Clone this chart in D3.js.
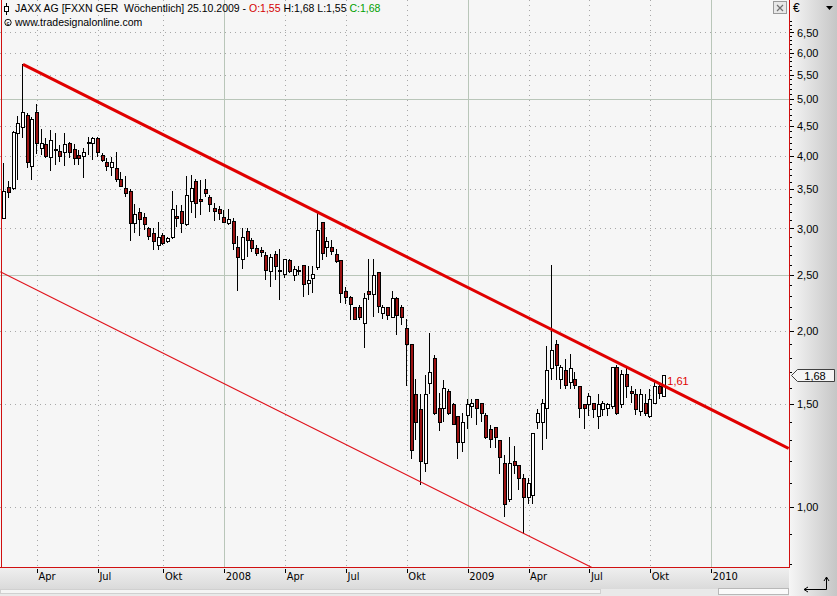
<!DOCTYPE html>
<html><head><meta charset="utf-8">
<script src="https://cdn.jsdelivr.net/npm/d3@7"></script>
<style>
html,body{margin:0;padding:0;background:#fff;}
svg{display:block;font-family:"Liberation Sans",Arial,sans-serif;}
text{white-space:pre;}
</style></head><body>
<svg id="chart" width="837" height="596"></svg>
<script>
// ---------------- data ----------------
const firstWeek = "2007-02-11";   // weekly bars, dated by week end (Sunday)
const opens = [3.13,3.53,3.52,4.37,4.48,4.70,3.84,4.75,4.12,4.19,3.98,4.09,4.07,4.06,4.20,4.11,4.01,3.99,4.20,4.20,
4.29,4.01,3.90,3.82,3.81,3.65,3.52,3.48,3.07,3.20,3.14,3.01,2.95,2.81,2.92,2.86,2.90,3.15,3.21,3.05,
3.34,3.62,3.37,3.51,3.40,3.25,3.24,3.14,3.07,3.09,2.79,2.66,2.97,2.87,2.78,2.76,2.70,2.54,2.71,2.55,
2.51,2.65,2.50,2.54,2.60,2.42,2.47,2.58,3.08,2.79,2.79,2.71,2.65,2.34,2.29,2.20,2.20,2.07,2.34,2.32,
2.53,2.15,2.20,2.12,2.28,2.20,2.03,1.90,1.56,1.47,1.19,1.63,1.80,1.48,1.48,1.58,1.50,1.43,1.29,1.44,
1.49,1.53,1.51,1.44,1.36,1.37,1.30,1.19,1.03,1.20,1.18,1.12,1.04,1.05,1.40,1.40,1.48,1.73,1.90,1.66,
1.72,1.64,1.66,1.61,1.50,1.50,1.51,1.43,1.47,1.48,1.49,1.74,1.50,1.69,1.58,1.56,1.46,1.51,1.43,1.51,
1.61,1.55];
const highs = [3.89,3.62,4.40,4.68,5.73,4.73,4.66,4.90,4.44,4.29,4.43,4.37,4.17,4.37,4.22,4.19,4.09,4.12,4.30,4.30,
4.30,4.04,3.96,3.98,4.06,3.75,3.69,3.51,3.30,3.25,3.19,3.02,3.00,3.08,2.95,2.90,3.48,3.29,3.29,3.69,
3.71,3.65,3.63,3.65,3.42,3.32,3.28,3.23,3.24,3.13,2.91,3.01,3.00,2.89,2.81,2.79,2.73,2.71,2.74,2.77,
2.66,2.66,2.59,2.59,2.60,2.59,2.59,3.19,3.08,2.90,2.87,2.77,2.65,2.38,2.30,2.20,2.22,2.33,2.66,2.66,
2.53,2.22,2.20,2.34,2.29,2.22,2.10,1.90,1.66,1.56,1.68,1.99,1.82,1.57,1.65,1.59,1.51,1.43,1.45,1.53,
1.53,1.53,1.51,1.45,1.38,1.37,1.30,1.23,1.32,1.27,1.18,1.14,1.12,1.34,1.47,1.53,1.89,2.60,1.93,1.75,
1.79,1.83,1.70,1.61,1.50,1.57,1.51,1.56,1.52,1.51,1.74,1.75,1.72,1.74,1.61,1.59,1.59,1.56,1.59,1.64,
1.63,1.68];
const lows = [3.12,3.38,3.49,3.63,4.29,3.81,3.63,4.03,4.01,3.96,3.76,3.85,3.90,3.84,3.96,3.85,3.85,3.66,4.01,3.93,
3.98,3.90,3.76,3.69,3.60,3.53,3.40,2.86,2.95,2.91,2.98,2.87,2.76,2.76,2.81,2.83,2.88,3.02,2.95,3.03,
3.19,3.13,3.16,3.40,3.20,3.09,3.10,3.07,3.04,2.76,2.34,2.56,2.68,2.73,2.69,2.68,2.45,2.38,2.45,2.26,
2.47,2.52,2.44,2.50,2.29,2.31,2.33,2.55,2.65,2.68,2.70,2.62,2.24,2.23,2.09,2.10,2.09,1.87,2.26,2.12,
2.15,2.10,2.09,2.11,1.97,2.05,1.61,1.21,1.30,1.09,1.15,1.56,1.44,1.35,1.40,1.44,1.38,1.21,1.24,1.36,
1.42,1.38,1.40,1.31,1.26,1.26,1.14,0.96,1.02,1.14,1.07,0.90,1.01,1.01,1.36,1.25,1.31,1.65,1.65,1.59,
1.59,1.59,1.59,1.42,1.36,1.43,1.42,1.36,1.43,1.43,1.47,1.44,1.48,1.54,1.51,1.44,1.43,1.43,1.42,1.50,
1.53,1.55];
const closes = [3.48,3.46,4.39,4.55,4.75,3.90,4.62,4.20,4.20,3.99,4.25,4.11,3.99,4.19,4.06,3.96,3.96,4.06,4.22,4.29,
4.06,3.93,3.84,3.90,3.65,3.55,3.45,3.07,3.18,3.11,3.05,2.91,2.86,2.90,2.83,2.89,3.24,3.13,3.07,3.42,
3.52,3.32,3.34,3.45,3.30,3.21,3.19,3.08,3.11,2.83,2.68,2.90,2.87,2.78,2.72,2.73,2.55,2.68,2.59,2.54,
2.66,2.54,2.56,2.55,2.41,2.45,2.51,2.98,2.72,2.86,2.75,2.64,2.33,2.29,2.23,2.10,2.12,2.28,2.32,2.50,
2.21,2.20,2.13,2.28,2.13,2.12,1.90,1.25,1.40,1.20,1.56,1.70,1.45,1.40,1.60,1.45,1.39,1.29,1.40,1.50,
1.51,1.48,1.45,1.32,1.31,1.32,1.22,1.01,1.19,1.18,1.12,1.04,1.10,1.34,1.45,1.51,1.72,1.86,1.75,1.74,
1.62,1.73,1.62,1.48,1.48,1.55,1.47,1.50,1.51,1.50,1.74,1.45,1.69,1.61,1.57,1.47,1.56,1.45,1.53,1.61,
1.57,1.68];

const yMajorTicks = [1.00,1.50,2.00,2.50,3.00,3.50,4.00,4.50,5.00,5.50,6.00,6.50];
const ySolidLevels = [2.50,5.00];
const xTickMonths = ["2007-04-01","2007-07-01","2007-10-01","2008-01-01","2008-04-01","2008-07-01",
  "2008-10-01","2009-01-01","2009-04-01","2009-07-01","2009-10-01","2010-01-01"];
const upperTrend = [{date:"2007-03-11", value:5.73},{date:"2010-04-29", value:1.26}];
const lowerTrend = [{date:"2007-02-05", value:2.53},{date:"2009-07-21", value:0.775}];
const trendLabel = {date:"2009-10-25", value:1.61, text:"1,61"};
const lastClose = 1.68;
const titleParts = [
  {t:"JAXX AG [FXXN GER  Wöchentlich] 25.10.2009 - ", c:"#000"},
  {t:"O:1,55", c:"#d40000"},
  {t:" H:1,68 L:1,55 ", c:"#000"},
  {t:"C:1,68", c:"#00a000"}
];
const subtitle = "www.tradesignalonline.com";

// ---------------- setup ----------------
const W = 837, H = 596;
const plot = {x0:0, y0:0, x1:789, y1:567};
const svg = d3.select("#chart");
const parse = d3.utcParse("%Y-%m-%d");
const t0 = parse(firstWeek);
const WEEK = 7*864e5;
const weekIndex = d => (d - t0) / WEEK;

const xi = d3.scaleLinear().domain([0, opens.length - 1]).range([4.3, 664.3]);
const xd = d => xi(weekIndex(d));
const y = d3.scaleLog().domain([0.7892, 7.389]).range([plot.y1, plot.y0]);

const de = d3.formatLocale({decimal:",", thousands:".", grouping:[3], currency:["","€"]});
const fmt2 = de.format(".2f");
const deTime = d3.timeFormatLocale({
  dateTime:"%A, %e. %B %Y, %X", date:"%d.%m.%Y", time:"%H:%M:%S", periods:["AM","PM"],
  days:["Sonntag","Montag","Dienstag","Mittwoch","Donnerstag","Freitag","Samstag"],
  shortDays:["So","Mo","Di","Mi","Do","Fr","Sa"],
  months:["Januar","Februar","März","April","Mai","Juni","Juli","August","September","Oktober","November","Dezember"],
  shortMonths:["Jan","Feb","Mär","Apr","Mai","Jun","Jul","Aug","Sep","Okt","Nov","Dez"]
});
const fmtMon = deTime.utcFormat("%b"), fmtYear = deTime.utcFormat("%Y");

const candles = opens.map((o, i) => ({
  i, date: new Date(+t0 + i*WEEK), o, h: highs[i], l: lows[i], c: closes[i]
}));

// ---------------- backgrounds ----------------
const defs = svg.append("defs");
const gR = defs.append("linearGradient").attr("id","gRight").attr("x1",0).attr("x2",1).attr("y1",0).attr("y2",0);
gR.append("stop").attr("offset","0%").attr("stop-color","#f6f6f6");
gR.append("stop").attr("offset","100%").attr("stop-color","#c6c6c6");
const gB = defs.append("linearGradient").attr("id","gBottom").attr("x1",0).attr("x2",0).attr("y1",0).attr("y2",1);
gB.append("stop").attr("offset","0%").attr("stop-color","#f0f0f0");
gB.append("stop").attr("offset","100%").attr("stop-color","#dadada");
defs.append("clipPath").attr("id","clipPlot").append("rect")
  .attr("x",plot.x0).attr("y",plot.y0).attr("width",plot.x1-plot.x0).attr("height",plot.y1-plot.y0);

svg.append("rect").attr("width",W).attr("height",H).attr("fill","#e6e6e6");
svg.append("rect").attr("x",plot.x1).attr("y",0).attr("width",W-plot.x1).attr("height",H).attr("fill","url(#gRight)");
svg.append("rect").attr("x",0).attr("y",plot.y1).attr("width",plot.x1).attr("height",22).attr("fill","url(#gBottom)");
svg.append("rect").attr("x",0).attr("y",plot.y1+22).attr("width",plot.x1).attr("height",H-plot.y1-22).attr("fill","#e9e9e9");
svg.append("rect").attr("x",0.5).attr("y",plot.y1+22.5).attr("width",600).attr("height",4).attr("fill","#f4f4f4").attr("stroke","#d0d0d0");
svg.append("rect").attr("x",718.5).attr("y",plot.y1+21.5).attr("width",70).attr("height",6).attr("fill","#fafafa").attr("stroke","#b8b8b8");
svg.append("rect").attr("x",plot.x0).attr("y",plot.y0).attr("width",plot.x1-plot.x0).attr("height",plot.y1-plot.y0).attr("fill","#f6f6f6");

// ---------------- grid ----------------
const grid = svg.append("g").attr("shape-rendering","crispEdges");
grid.selectAll("line.hg").data(yMajorTicks).join("line")
  .attr("x1",plot.x0).attr("x2",plot.x1)
  .attr("y1",d=>Math.round(y(d))+0.5).attr("y2",d=>Math.round(y(d))+0.5)
  .attr("stroke",d=>ySolidLevels.includes(d) ? "#b9c6b9" : "#a8a8a8")
  .attr("stroke-dasharray",d=>ySolidLevels.includes(d) ? null : "1,4");

const xTicks = xTickMonths.map(s => {
  const d = parse(s);
  return {date:d, idx: Math.ceil(weekIndex(d) - 1e-9), jan: d.getUTCMonth() === 0};
});
grid.selectAll("line.vg").data(xTicks).join("line")
  .attr("x1",d=>Math.round(xi(d.idx))+0.5).attr("x2",d=>Math.round(xi(d.idx))+0.5)
  .attr("y1",plot.y0).attr("y2",plot.y1)
  .attr("stroke",d=>d.jan ? "#b9c6b9" : "#a8a8a8")
  .attr("stroke-dasharray",d=>d.jan ? null : "1,4");

// ---------------- candles ----------------
const gC = svg.append("g").attr("clip-path","url(#clipPlot)").attr("shape-rendering","crispEdges");
const cx = d => Math.round(xd(d.date));
gC.selectAll("line.wick").data(candles).join("line")
  .attr("x1",d=>cx(d)-0.5).attr("x2",d=>cx(d)-0.5)
  .attr("y1",d=>Math.round(y(d.h))).attr("y2",d=>Math.round(y(d.l)))
  .attr("stroke","#000").attr("stroke-width",1);
gC.selectAll("rect.body").data(candles).join("rect")
  .attr("x",d=>cx(d)-1.5).attr("width",3)
  .attr("y",d=>Math.round(y(Math.max(d.o,d.c)))+0.5)
  .attr("height",d=>Math.max(1, Math.round(y(Math.min(d.o,d.c))) - Math.round(y(Math.max(d.o,d.c)))))
  .attr("fill",d=>d.c >= d.o ? "#ffffff" : "#9b1212")
  .attr("stroke","#000").attr("stroke-width",1);

// ---------------- trend lines ----------------
const line = d3.line().x(d=>xd(parse(d.date))).y(d=>y(d.value));
const gT = svg.append("g").attr("clip-path","url(#clipPlot)");
gT.append("path").attr("d",line(lowerTrend)).attr("fill","none").attr("stroke","#e0101a").attr("stroke-width",1.1);
gT.append("path").attr("d",line(upperTrend)).attr("fill","none").attr("stroke","#e00000").attr("stroke-width",3);
svg.append("text").attr("x",xd(parse(trendLabel.date))+3).attr("y",y(trendLabel.value)-1)
  .attr("font-size",11).attr("fill","#e00000").text(trendLabel.text);

// ---------------- plot border ----------------
const border = svg.append("g").attr("shape-rendering","crispEdges").attr("stroke","#d01010").attr("stroke-width",1).attr("fill","none");
border.append("line").attr("x1",1.5).attr("x2",1.5).attr("y1",0).attr("y2",plot.y1);
border.append("line").attr("x1",plot.x1+0.5).attr("x2",plot.x1+0.5).attr("y1",0).attr("y2",plot.y1+1);
border.append("line").attr("x1",0).attr("x2",plot.x1+1).attr("y1",plot.y1+0.5).attr("y2",plot.y1+0.5);

// ---------------- y axis ----------------
const yMinor = d3.range(8, 69).map(v => v/10);
const gYm = svg.append("g").attr("transform",`translate(${plot.x1+1},0)`)
  .call(d3.axisRight(y).tickValues(yMinor).tickSize(2).tickFormat(""));
gYm.select(".domain").remove();
gYm.selectAll("line").attr("stroke","#000").attr("shape-rendering","crispEdges");
const gY = svg.append("g").attr("transform",`translate(${plot.x1+1},0)`)
  .call(d3.axisRight(y).tickValues(yMajorTicks).tickSize(4).tickPadding(3).tickFormat(fmt2));
gY.select(".domain").remove();
gY.selectAll("line").attr("stroke","#000").attr("shape-rendering","crispEdges");
gY.selectAll("text").attr("font-size",11).attr("fill","#000").attr("font-family","Liberation Sans, Arial, sans-serif");

// last price marker
const yl = Math.round(y(lastClose));
const mk = svg.append("g");
mk.append("path").attr("d",`M${plot.x1+2.5},${yl+0.5} L${plot.x1+8.5},${yl-5.5} H${W-2.5} V${yl+6.5} H${plot.x1+8.5} Z`)
  .attr("fill","#f4f4f4").attr("stroke","#404040").attr("stroke-width",1);
mk.append("text").attr("x",plot.x1+26).attr("y",yl+4.5).attr("text-anchor","middle")
  .attr("font-size",11).attr("fill","#000").text(fmt2(lastClose));

// ---------------- x axis ----------------
const gX = svg.append("g").attr("transform",`translate(0,${plot.y1+2})`)
  .call(d3.axisBottom(xi).tickValues(xTicks.map(d=>d.idx)).tickSize(4)
    .tickFormat((v,k)=> xTicks[k].jan ? fmtYear(xTicks[k].date) : fmtMon(xTicks[k].date)));
gX.select(".domain").remove();
gX.selectAll("line").attr("stroke","#000").attr("shape-rendering","crispEdges");
gX.selectAll("text").attr("font-size",11).attr("fill","#000").attr("text-anchor","start")
  .attr("font-family","Liberation Sans Narrow, DejaVu Sans Condensed, Arial, sans-serif")
  .attr("x",1).attr("y",3).attr("dy","0.71em");

// ---------------- title ----------------
const ic = svg.append("g").attr("shape-rendering","crispEdges");
ic.append("line").attr("x1",6.5).attr("x2",6.5).attr("y1",3).attr("y2",15).attr("stroke","#000");
ic.append("rect").attr("x",4.5).attr("y",6.5).attr("width",4).attr("height",5).attr("fill","#fff").attr("stroke","#000");
const title = svg.append("text").attr("x",15).attr("y",12).attr("font-size",10.5).attr("xml:space","preserve");
titleParts.forEach(p => title.append("tspan").attr("fill",p.c).text(p.t));
svg.append("circle").attr("cx",8).attr("cy",22.5).attr("r",3.2).attr("fill","none").attr("stroke","#000").attr("stroke-width",0.9);
svg.append("text").attr("x",8).attr("y",24.6).attr("text-anchor","middle").attr("font-size",5).attr("font-weight","bold").text("c");
svg.append("text").attr("x",15).attr("y",26).attr("font-size",10.5).attr("fill","#000").text(subtitle);

// ---------------- widgets ----------------
svg.append("rect").attr("x",773.5).attr("y",1.5).attr("width",13).attr("height",12).attr("fill","#e8e8e8").attr("stroke","#9a9a9a");
svg.append("path").attr("d","M777,5 L783,11 M783,5 L777,11").attr("stroke","#707070").attr("stroke-width",1.2);
svg.append("text").attr("x",793).attr("y",12).attr("font-size",12).attr("fill","#000").text("€");
svg.append("path").attr("d","M826,6 H833 L829.5,10 Z").attr("fill","#000");
svg.append("path").attr("d","M804,589.5 H826.5 V577").attr("fill","none").attr("stroke","#000");
svg.append("path").attr("d","M804,589.5 L808,587 M804,589.5 L808,592 M826.5,577 L824,581 M826.5,577 L829,581").attr("fill","none").attr("stroke","#000");
</script>
</body></html>
